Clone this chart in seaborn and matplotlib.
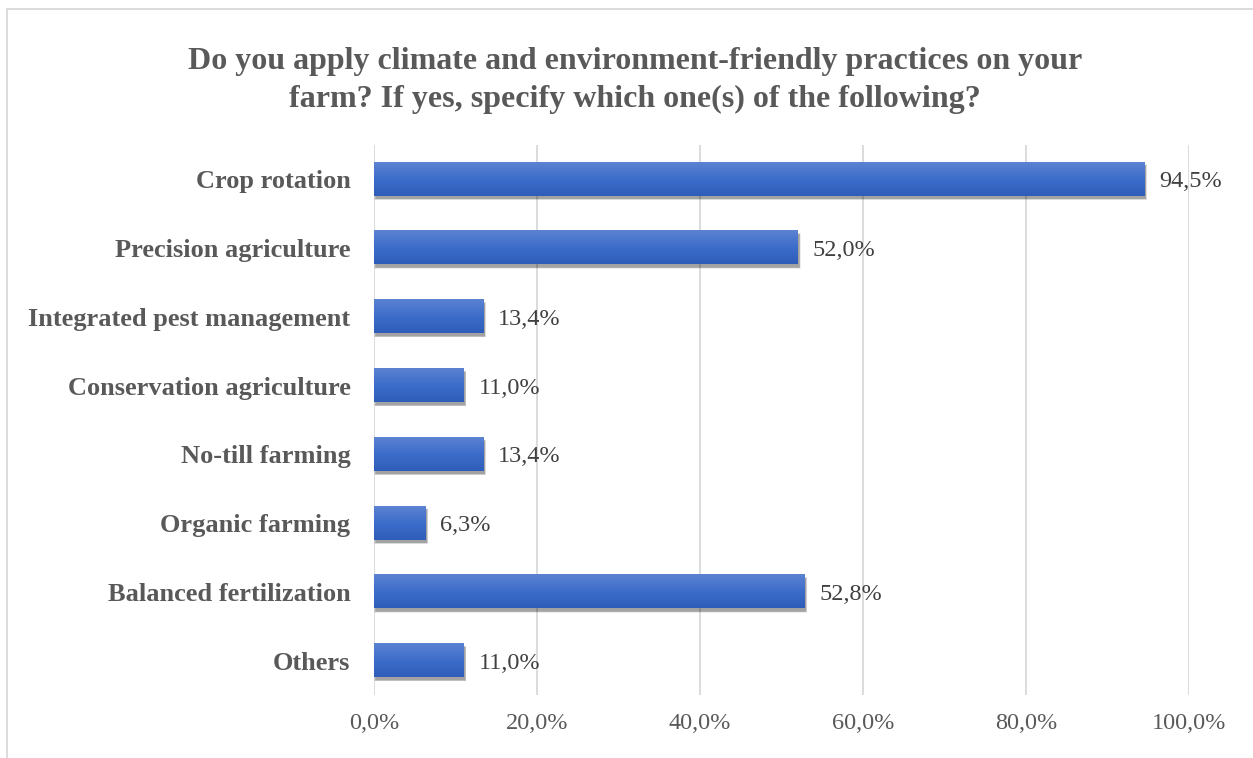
import matplotlib
matplotlib.use("Agg")
import matplotlib.pyplot as plt
import matplotlib.patches as mpatches
from matplotlib.colors import LinearSegmentedColormap
import numpy as np
import pandas as pd
import seaborn as sns

categories = ["Crop rotation", "Precision agriculture", "Integrated pest management",
              "Conservation agriculture", "No-till farming", "Organic farming",
              "Balanced fertilization", "Others"]
values = [94.5, 52.0, 13.4, 11.0, 13.4, 6.3, 52.8, 11.0]
xticks = [0, 20, 40, 60, 80, 100]
title = "Do you apply climate and environment-friendly practices on your\nfarm? If yes, specify which one(s) of the following?"

sns.set_theme(style="white")
plt.rcParams['font.family'] = ['Liberation Serif', 'DejaVu Serif']

df = pd.DataFrame({"cat": categories, "val": values})

fig = plt.figure(figsize=(12.53, 7.58), dpi=100)
ax = fig.add_axes([0.2985, 0.083, 0.6505, 0.726])

sns.barplot(data=df, x="val", y="cat", color="#3a6cc8", width=0.48, ax=ax, zorder=3)

grey = "#595959"
ax.set_xlim(0, 100)
ax.set_ylim(7.5, -0.5)
ax.set_xticks(xticks)
ax.set_xticklabels([f"{t:.1f}".replace(".", ",") + "%" for t in xticks], color=grey, fontsize=17.5)
ax.tick_params(axis="x", length=0, pad=13)
ax.tick_params(axis="y", length=0, pad=17)
for lab in ax.get_yticklabels():
    lab.set_fontweight("bold")
    lab.set_fontsize(19)
    lab.set_color(grey)
ax.set_xlabel("")
ax.set_ylabel("")
for s in ax.spines.values():
    s.set_visible(False)
ax.xaxis.grid(True, color="#d9d9d9", linewidth=1.3, zorder=0)
ax.set_axisbelow(True)

cmap = LinearSegmentedColormap.from_list("g", ["#5c82d2", "#3d6dca", "#2e5db9"])
grad = np.linspace(0, 1, 64).reshape(-1, 1)
px_x = 100 / 815.0
px_y = 8 / 551.0
for p, v in zip(ax.patches, values):
    x0, y0 = p.get_x(), p.get_y()
    w, h = p.get_width(), p.get_height()
    # soft shadow, offset down/right
    for k in range(6):
        grow = k * 0.8
        sh = mpatches.Rectangle((x0 + (1.5 - grow * 0.3) * px_x, y0 + (3 - grow * 0.3) * px_y),
                                w + grow * 0.6 * px_x, h + grow * 0.6 * px_y,
                                facecolor="black", alpha=0.07, edgecolor="none", zorder=2)
        ax.add_patch(sh)
    p.set_visible(False)
    ax.imshow(grad, cmap=cmap, aspect="auto", extent=(x0, x0 + w, y0 + h, y0),
              zorder=4, interpolation="bilinear")
    ax.text(v + 1.85, y0 + h / 2, f"{v:.1f}".replace(".", ",") + "%", va="center_baseline",
            ha="left", fontsize=17.5, color="#404040", zorder=5)
ax.set_xlim(0, 100)
ax.set_ylim(7.5, -0.5)

fig.text(0.507, 0.894, title, ha="center", va="center", fontsize=23,
         fontweight="bold", color=grey, linespacing=1.42)

border = mpatches.Rectangle((7 / 1253, -0.01), 1.02, 1 - 9 / 758 + 0.01, transform=fig.transFigure,
                            fill=False, edgecolor="#d9d9d9", linewidth=1.3)
fig.patches.append(border)

fig.savefig("out.png", dpi=100)
